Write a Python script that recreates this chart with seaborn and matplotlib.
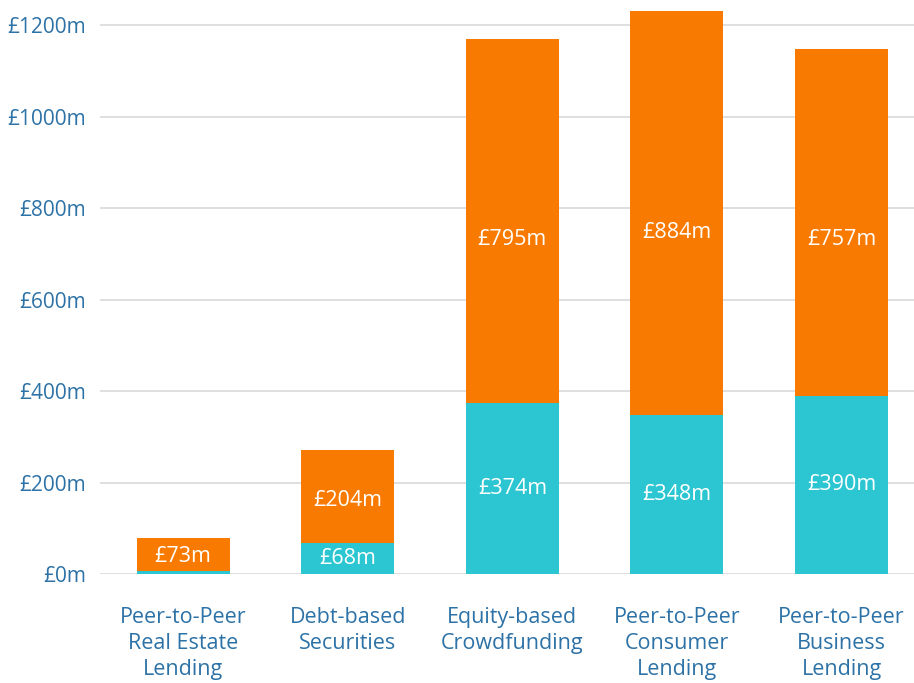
import numpy as np
import pandas as pd
import matplotlib
matplotlib.use('Agg')
import matplotlib.pyplot as plt
import seaborn as sns

sns.set_style("white")
plt.rcParams['font.family'] = ['Open Sans', 'DejaVu Sans']

# data (£m)
categories = ['Peer-to-Peer\nReal Estate\nLending', 'Debt-based\nSecurities',
              'Equity-based\nCrowdfunding', 'Peer-to-Peer\nConsumer\nLending',
              'Peer-to-Peer\nBusiness\nLending']
lower_vals = [6, 68, 374, 348, 390]
upper_vals = [73, 204, 795, 884, 757]
lower_labels = [None, '£68m', '£374m', '£348m', '£390m']
upper_labels = ['£73m', '£204m', '£795m', '£884m', '£757m']
yticks = [0, 200, 400, 600, 800, 1000, 1200]

ORANGE = '#F97A00'
TEAL = '#2CC6D2'
BLUE = '#2D72A6'

df = pd.DataFrame({'cat': categories, 'lower': lower_vals, 'upper': upper_vals})
df['total'] = df['lower'] + df['upper']

fig = plt.figure(figsize=(9.14, 6.83), dpi=100)
ax = fig.add_axes([100 / 914, 109 / 683, 1 - 100 / 914, 574 / 683])

sns.barplot(data=df, x='cat', y='total', color=ORANGE, width=0.565,
            saturation=1, linewidth=0, ax=ax, zorder=3)
sns.barplot(data=df, x='cat', y='lower', color=TEAL, width=0.565,
            saturation=1, linewidth=0, ax=ax, zorder=3)

# labels sit a little below the middle of the orange segment, as in the original
for i, row in df.iterrows():
    ax.text(i, row['lower'] + row['upper'] * 0.45, upper_labels[i], ha='center',
            va='center', color='white', fontsize=15.5, zorder=4)
    if lower_labels[i]:
        ax.text(i, row['lower'] / 2, lower_labels[i], ha='center',
                va='center', color='white', fontsize=15.5, zorder=4)

ax.set_xlim(-0.505, 4.44)
ax.set_ylim(0, 1255)
ax.set_yticks(yticks)
ax.set_yticklabels([f'£{v}m' for v in yticks])
ax.yaxis.grid(True, color='#D9D9D9', linewidth=1.2, zorder=0)
ax.set_axisbelow(True)
for s in ax.spines.values():
    s.set_visible(False)
ax.tick_params(axis='y', length=0, pad=10, labelsize=15, labelcolor=BLUE)
ax.tick_params(axis='x', length=0, pad=24, labelsize=15.5, labelcolor=BLUE)
for lab in ax.get_xticklabels():
    lab.set_linespacing(1.3)
    lab.set_verticalalignment('top')
ax.set_xlabel('')
ax.set_ylabel('')

fig.savefig('out.png', dpi=100)
